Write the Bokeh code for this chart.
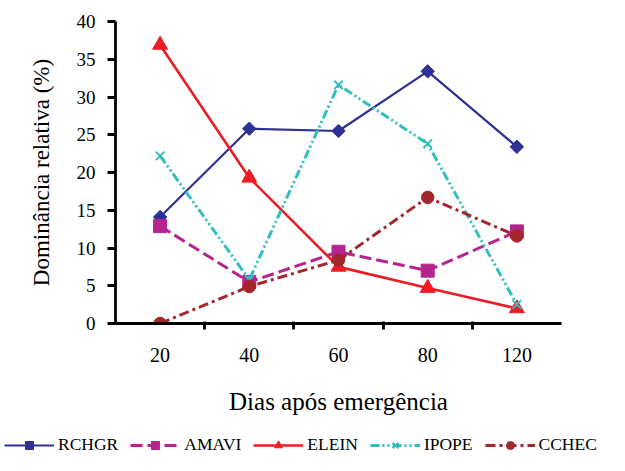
import math
from bokeh.plotting import figure
from bokeh.models import (FixedTicker, LinearAxis, Legend, LegendItem, Range1d)
from bokeh.embed import file_html
from bokeh.resources import INLINE

days = ["20", "40", "60", "80", "120"]
rchgr = [14.1, 25.8, 25.5, 33.4, 23.4]
amavi = [12.9, 5.5, 9.5, 7.0, 12.2]
elein = [36.9, 19.3, 7.5, 4.7, 2.0]
ipope = [22.2, 5.8, 31.6, 23.8, 2.5]
cchec = [0.0, 4.9, 8.4, 16.7, 11.6]
y_ticks = [0, 5, 10, 15, 20, 25, 30, 35, 40]

FONT = "Liberation Serif"
xpos = [i + 0.5 for i in range(len(days))]

p = figure(width=609, height=420, output_backend="svg", toolbar_location=None,
           x_range=Range1d(0, len(days)), y_range=Range1d(0, 40),
           min_border_left=115, min_border_right=48, min_border_top=21,
           min_border_bottom=97)
p.grid.visible = False
p.outline_line_color = None
p.background_fill_color = "white"

# y axis
ya = p.yaxis[0]
ya.ticker = FixedTicker(ticks=y_ticks)
ya.axis_label = "Dominância relativa (%)"
ya.axis_label_text_font = FONT
ya.axis_label_text_font_style = "normal"
ya.axis_label_text_font_size = "23px"
ya.axis_label_text_color = "black"
ya.major_label_text_font = FONT
ya.major_label_text_font_size = "19px"
ya.major_label_text_color = "black"
ya.axis_line_width = 2.8
ya.major_tick_line_width = 2.8
ya.major_tick_out = 8
ya.major_tick_in = 0
ya.minor_tick_line_color = None
ya.major_label_standoff = 12
ya.axis_label_standoff = 20

# x axis with boundary ticks
xa = p.xaxis[0]
xa.ticker = FixedTicker(ticks=[1, 2, 3, 4])
xa.major_label_overrides = {1: "", 2: "", 3: "", 4: ""}
xa.major_label_text_font_size = "1px"
xa.axis_line_width = 2.8
xa.major_tick_line_width = 2.8
xa.major_tick_out = 6
xa.major_tick_in = 2
xa.minor_tick_line_color = None
xa.major_label_standoff = 0

# x axis with category labels
xa2 = LinearAxis(ticker=FixedTicker(ticks=xpos),
                 major_label_overrides={x: d for x, d in zip(xpos, days)})
xa2.axis_line_color = None
xa2.major_tick_line_color = None
xa2.minor_tick_line_color = None
xa2.major_label_text_font = FONT
xa2.major_label_text_font_size = "20px"
xa2.major_label_text_color = "black"
xa2.major_label_standoff = 12
xa2.axis_label = "Dias após emergência"
xa2.axis_label_text_font = FONT
xa2.axis_label_text_font_style = "normal"
xa2.axis_label_text_font_size = "25px"
xa2.axis_label_text_color = "black"
xa2.axis_label_standoff = 23
p.add_layout(xa2, "below")

Q = math.pi / 4
series = [
    ("RCHGR", rchgr, "#2e3192", "solid", 2.2, "square", 9.5, Q),
    ("AMAVI", amavi, "#b5248f", "12 5", 3, "square", 13, 0),
    ("ELEIN", elein, "#ed1c24", "solid", 2.6, "triangle", 15, 0),
    ("IPOPE", ipope, "#33bdbd", "9 3 2 3 2 3", 3, "x", 12, 0),
    ("CCHEC", cchec, "#a5262c", "10 4 3 4", 3, "circle", 12.5, 0),
]

# legend strip: a second, independent root; its ranges keep the data out of view
lg = figure(width=609, height=35, output_backend="svg", toolbar_location=None,
            x_range=Range1d(-20, -19), y_range=Range1d(-20, -19),
            x_axis_location=None, y_axis_location=None,
            min_border_left=0, min_border_right=0, min_border_top=0,
            min_border_bottom=0)
lg.grid.visible = False
lg.outline_line_color = None

items = []
for name, vals, col, dash, lw, mk, sz, ang in series:
    p.line(xpos, vals, line_color=col, line_dash=dash, line_width=lw)
    lr = lg.line(xpos, vals, line_color=col, line_dash=dash, line_width=lw)
    if mk == "x":
        p.scatter(xpos, vals, marker=mk, size=sz, line_color=col, line_width=2)
        sr = lg.scatter(xpos, vals, marker=mk, size=sz - 1, line_color=col, line_width=2)
    else:
        p.scatter(xpos, vals, marker=mk, size=sz, angle=ang, fill_color=col, line_color=col)
        sr = lg.scatter(xpos, vals, marker=mk, size=sz - 1, angle=ang,
                        fill_color=col, line_color=col)
    items.append(LegendItem(label=name, renderers=[lr, sr]))

legend = Legend(items=items, orientation="horizontal", location=(4, 0),
                glyph_width=50, glyph_height=20, label_standoff=4, spacing=12,
                padding=0, margin=0, border_line_color=None,
                background_fill_alpha=0, label_text_font=FONT,
                label_text_font_size="17.5px", label_text_color="black")
lg.add_layout(legend, "center")

open("out.html", "w").write(file_html([p, lg], INLINE))
